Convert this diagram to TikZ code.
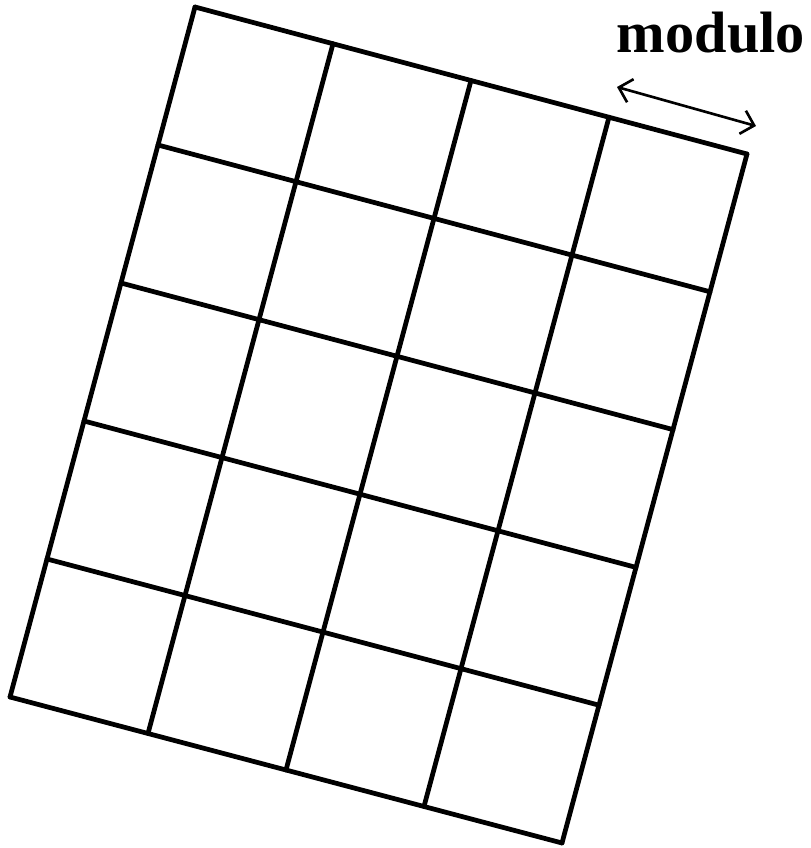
\documentclass[tikz,border=0pt]{standalone}
\usepackage{fontspec}
\setmainfont{Liberation Serif}
\usetikzlibrary{arrows.meta, calc}

\begin{document}
\begin{tikzpicture}[scale=1]
\useasboundingbox (0,0) rectangle (8.11,8.48);
\coordinate (A) at (1.95,8.41);
\coordinate (B) at (7.47,6.94);
\coordinate (C) at (5.62,0.05);
\coordinate (D) at (0.10,1.51);
\coordinate (P) at (6.17,7.61);
\coordinate (Q) at (7.56,7.22);
\foreach \k in {0,...,4}
  \draw[line width=1.35pt, line cap=round] ($(A)!\k/4!(B)$) -- ($(D)!\k/4!(C)$);
\foreach \k in {0,...,5}
  \draw[line width=1.35pt, line cap=round] ($(A)!\k/5!(D)$) -- ($(B)!\k/5!(C)$);
\draw[line width=0.75pt, {Straight Barb[length=1.2mm,width=2.4mm]}-{Straight Barb[length=1.2mm,width=2.4mm]}] (P) -- (Q);
\node[anchor=base, inner sep=0pt, font=\fontsize{16.6pt}{18pt}\selectfont\bfseries] (mod) at (7.11,7.95) {modulo};
\end{tikzpicture}
\end{document}
